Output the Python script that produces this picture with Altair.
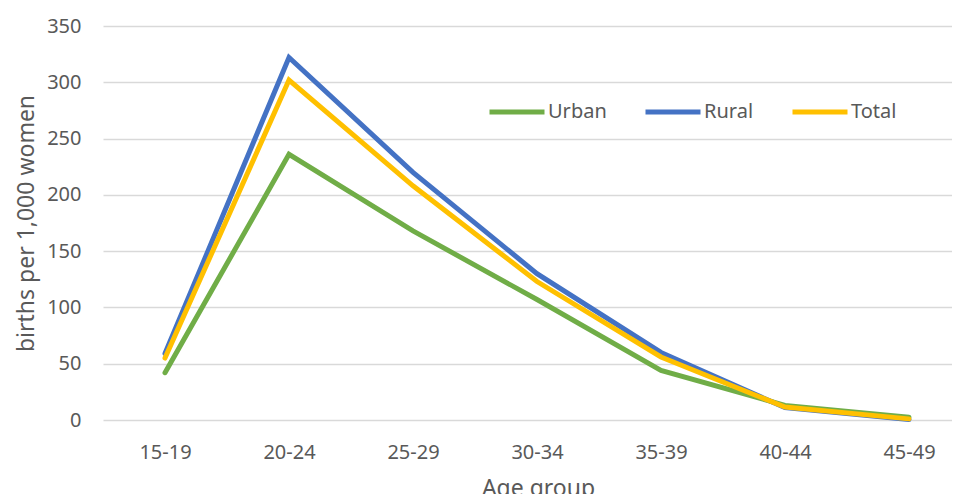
import json
import altair as alt
import pandas as pd

ages = ["15-19", "20-24", "25-29", "30-34", "35-39", "40-44", "45-49"]
urban = [42, 236, 168, 107, 44, 13, 2.5]
rural = [59, 322, 220, 130, 60, 11, 0.5]
total = [55, 302, 208, 123, 56, 11.5, 1]
series = ["Urban", "Rural", "Total"]
colors = ["#70AD47", "#4472C4", "#FFC000"]

rows = []
for name, vals in zip(series, [urban, rural, total]):
    for i, (a, v) in enumerate(zip(ages, vals)):
        rows.append({"age": a, "idx": i, "value": v, "series": name})
df = pd.DataFrame(rows)

FONT = "Noto Sans"
GREY = "#595959"
label_expr = json.dumps(ages) + "[datum.value]"

chart = alt.Chart(df).mark_line(strokeWidth=5, strokeCap="round", strokeJoin="miter").encode(
    x=alt.X("idx:Q",
            scale=alt.Scale(domain=[-0.5, 6.347], nice=False, zero=False),
            axis=alt.Axis(title="Age group", grid=False, domain=False, ticks=False,
                          values=list(range(len(ages))), labelExpr=label_expr,
                          labelAngle=0, labelFontSize=20, labelColor=GREY, labelFont=FONT,
                          labelPadding=22, labelFlush=False, labelOverlap=False,
                          titleFontSize=23, titleFont=FONT, titleColor=GREY,
                          titleFontWeight="normal", titleX=435, titleY=57, titleBaseline="top")),
    y=alt.Y("value:Q", scale=alt.Scale(domain=[0, 350], nice=False),
            axis=alt.Axis(title="births per 1,000 women", values=list(range(0, 351, 50)),
                          domain=False, ticks=False, gridColor="#d9d9d9", gridWidth=1.3,
                          labelFontSize=20, labelColor=GREY, labelFont=FONT, labelPadding=22,
                          titleFontSize=23, titleFont=FONT, titleColor=GREY,
                          titleFontWeight="normal", titleX=-77, titleBaseline="middle")),
    color=alt.Color("series:N", sort=series,
                    scale=alt.Scale(domain=series, range=colors),
                    legend=alt.Legend(title=None, orient="none", direction="horizontal",
                                      legendX=384, legendY=56, symbolType="stroke",
                                      symbolSize=3025, symbolStrokeWidth=5,
                                      labelFontSize=20, labelFont=FONT, labelColor=GREY,
                                      labelOffset=1, columnPadding=28, padding=0)),
    order=alt.Order("idx:Q"),
).properties(
    width=849, height=394,
    autosize=alt.AutoSizeParams(type="none"),
    padding={"left": 95, "top": 18, "right": 0, "bottom": 74},
).configure_view(stroke=None)

chart.save("out.html", embed_options={"renderer": "svg", "actions": False})
